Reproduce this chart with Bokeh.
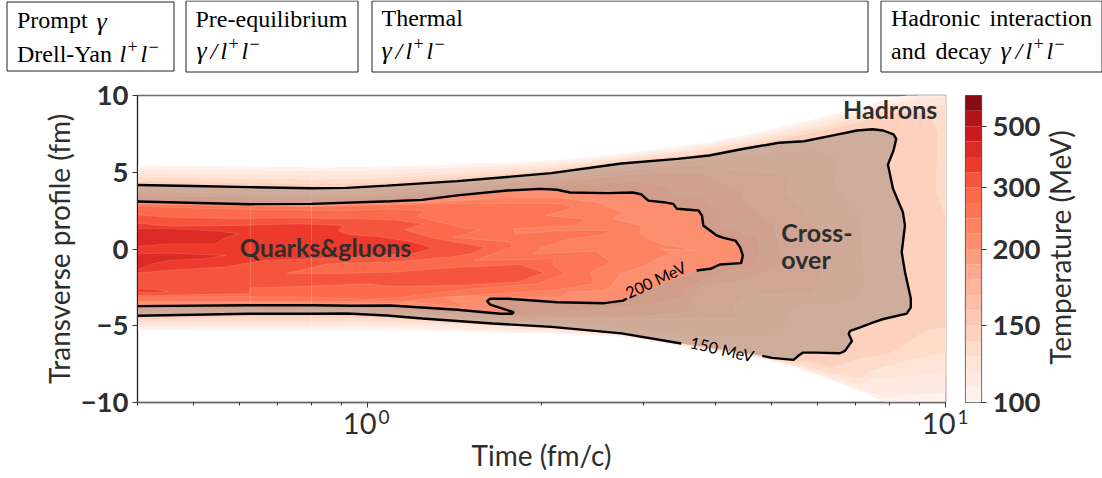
from bokeh.plotting import figure
from bokeh.layouts import column, row
from bokeh.models import FixedTicker, Range1d
from bokeh.core.properties import value
from bokeh.embed import file_html
from bokeh.resources import INLINE

# ---------- data: temperature contours of the fireball, (time fm/c, transverse fm) ----------
levels = [100,110,120,130,140,150,160,170,180,190,200,225,250,275,300,350,400,450,500,550,600]
level_colors = ["#fff2ec","#feeae1","#fee5d8","#fedcc9","#fdd1be","#fdc6b0","#fdbda6","#fcb59c","#fca98f","#fc9d80",
                "#fc8f6f","#fc8262","#fc7555","#fb6a4a","#f6553d","#ee3a2c","#dc2a25","#cb181d","#b4131a","#8b0a13"]
cbar_ticks = [100,150,200,300,500]

c100 = [(.4,5.44),(.8,5.33),(1,5.35),(1.43,5.5),(2.08,5.76),(2.75,6.2),(3.9,6.96),(5.15,7.9),(6.36,8.75),(7.48,9.5),(9,10.2),(11,10.2),(11,-10.2),(8,-10.2),(7.92,-10),(7.32,-9.5),(6.36,-8.55),(5.57,-7.8),(4.82,-7.15),(3.49,-6.32),(2.75,-5.72),(2.08,-5.5),(1.43,-5.4),(1,-5.28),(.4,-5.29)]
c110 = [(.4,5.2),(.8,5.1),(1,5.12),(1.43,5.3),(2.08,5.6),(2.75,6.05),(3.9,6.8),(5.15,7.7),(6.36,8.5),(7.48,9.2),(8.5,9.7),(9.3,10.2),(11,10.2),(11,-9.3),(8.5,-9.5),(7.9,-9.7),(7.2,-9.2),(6.3,-8.42),(5.57,-7.72),(4.82,-7.11),(3.49,-6.28),(2.75,-5.66),(2.08,-5.4),(1.43,-5.22),(1,-5.05),(.4,-5.1)]
c120 = [(.4,4.95),(.8,4.8),(1,4.85),(1.43,5.1),(2.08,5.45),(2.75,5.95),(3.9,6.65),(5.15,7.55),(6.36,8.3),(7.48,9.0),(8.5,9.6),(9.5,9.9),(11,9.9),(11,-8.0),(7.35,-8.5),(7.12,-8.9),(6.4,-8.3),(5.57,-7.62),(4.82,-7.08),(3.49,-6.25),(2.75,-5.62),(2.08,-5.3),(1.43,-5.05),(1,-4.85),(.4,-4.93)]
c130 = [(.4,4.7),(.8,4.55),(1,4.6),(1.43,4.9),(2.08,5.3),(2.75,5.85),(3.9,6.5),(5.15,7.35),(6.36,8.1),(7.48,8.85),(8.5,9.3),(9.5,9.4),(11,9.4),(11,-6.4),(8.57,-7.3),(7.5,-7.9),(7.12,-8.4),(6.36,-8.15),(5.57,-7.55),(4.82,-7.05),(3.49,-6.22),(2.75,-5.58),(2.08,-5.2),(1.43,-4.9),(1,-4.7),(.4,-4.78)]
c140 = [(.4,4.45),(.8,4.25),(1,4.3),(1.43,4.65),(2.08,5.15),(2.75,5.72),(3.44,6.05),(3.9,6.3),(5.15,7.15),(6.36,7.85),(7.48,8.5),(8.5,8.9),(9.4,8.9),(9.7,7.6),(9.65,5.0),(9.65,3.9),(9.9,2.6),(10.2,1.3),(10.2,-5.0),(9.14,-5.41),(8.57,-6.16),(8.02,-6.8),(7.12,-7.13),(6.31,-7.78),(5.83,-7.39),(5.38,-7.33),(5.01,-7.2),(4.82,-7.02),(3.49,-6.2),(2.75,-5.54),(2.08,-5.15),(1.645,-4.93),(1.243,-4.62),(1,-4.5),(.625,-4.47),(.4,-4.6)]
c150_upper = [(.4,4.17),(.5,4.1),(.625,4.03),(.8,3.96),(.92,3.98),(1.08,4.13),(1.43,4.42),(2.08,4.94),(2.75,5.57),(3.44,5.87),(3.9,6.09),(4.48,6.53),(5.15,6.92),(5.69,7.02),(6.36,7.39),(7.03,7.72),(7.48,7.8),(7.8,7.72),(8.13,7.46),(8.22,7.18),(8.13,6.42),(7.95,5.5),(8.11,3.94),(8.44,2.39),(8.51,1.54),(8.4,-.21),(8.51,-1.51),(8.71,-3.22),(8.71,-3.8),(8.57,-4.21),(7.81,-4.56),(7.5,-4.78),(7.12,-5.11),(6.84,-5.33),(6.8,-5.54),(6.89,-5.99),(6.7,-6.64),(6.57,-6.79),(5.99,-6.75),(5.67,-6.75),(5.57,-6.94),(5.46,-7.22),(5.01,-7.09),(4.82,-6.96)]
c150_lower = [(3.49,-6.16),(2.75,-5.5),(2.08,-5.07),(1.645,-4.85),(1.243,-4.53),(1.08,-4.33),(.92,-4.2),(.8,-4.22),(.625,-4.22),(.4,-4.35)]
c160 = [(.4,3.94),(.8,3.75),(1,3.81),(1.43,4.2),(2.08,4.72),(2.96,5.5),(3.76,5.83),(5.53,6.42),(5.9,6.55),(6.51,5.98),(6.51,5.3),(6.43,4.35),(6.78,3.05),(7.16,2.07),(7.18,.68),(7.25,-2.38),(7.16,-3.14),(6.64,-3.55),(6.14,-3.68),(5.6,-3.65),(5.3,-4.41),(5.3,-5.6),(4.5,-5.75),(3.49,-5.63),(2.75,-5.15),(2.08,-4.8),(1.8,-4.72),(1.3,-4.4),(1,-4.15),(.8,-4.12),(.4,-4.2)]
c170 = [(.4,3.73),(.8,3.55),(1,3.6),(1.43,3.95),(2.08,4.53),(2.96,5.24),(3.76,5.44),(5.38,4.79),(5.3,3.6),(5.6,2.64),(6.07,.88),(6.14,-1.53),(5.9,-2.83),(4.47,-3.11),(4.31,-3.88),(4.36,-4.53),(2.5,-4.6),(1.8,-4.6),(1.3,-4.25),(1,-4.02),(.8,-4.0),(.4,-4.07)]
c180 = [(.4,3.5),(.8,3.35),(1,3.4),(1.43,3.7),(2.08,4.3),(2.96,4.95),(3.76,4.98),(4.47,3.69),(4.47,3.17),(5.03,1.66),(5.27,-.95),(4.47,-2.05),(3.76,-2.49),(3.57,-4.12),(2.96,-4.4),(2.2,-4.45),(1.8,-4.45),(1.3,-4.1),(1,-3.9),(.8,-3.9),(.4,-3.95)]
c190 = [(.4,3.25),(.8,3.1),(1,3.2),(1.43,3.6),(2.08,4.14),(2.96,4.4),(3.34,4.03),(3.36,3.62),(3.76,3.37),(4.07,2.5),(4.1,1.53),(4.72,.77),(4.78,-.29),(4.65,-1.19),(4.07,-1.51),(3.52,-2.7),(3.52,-3.14),(3.17,-3.55),(2.96,-3.68),(2.2,-4.1),(1.85,-4.33),(1.645,-4.25),(1.2,-3.9),(.8,-3.78),(.4,-3.85)]
c200_upper = [(.4,3.09),(.625,2.92),(.8,2.94),(1.096,3.11),(1.243,3.2),(1.43,3.49),(1.744,3.81),(1.99,3.92),(2.13,3.86),(2.24,3.68),(2.6,3.64),(2.88,3.68),(2.98,3.55),(3.06,3.15),(3.25,3.05),(3.38,2.94),(3.43,2.62),(3.74,2.51),(3.79,2.18),(3.81,1.53),(4.02,.88),(4.13,.73),(4.33,.55),(4.41,.12),(4.46,-.42),(4.43,-.92),(4.07,-1.01),(3.92,-1.29),(3.71,-1.4)]
c200_lower = [(2.81,-3.22),(2.77,-3.36),(2.57,-3.53),(2.13,-3.47),(1.744,-3.24),(1.63,-3.24),(1.61,-3.4),(1.63,-3.62),(1.79,-4.12),(1.78,-4.22),(1.7,-4.22),(1.43,-3.96),(1.243,-3.81),(1.096,-3.68),(.938,-3.7),(.8,-3.66),(.625,-3.66),(.4,-3.72)]
c225 = [(.4,3.0),(.8,2.82),(1.1,2.98),(1.3,3.05),(1.744,3.37),(2.13,3.37),(2.49,3.05),(2.77,2.4),(2.66,1.97),(2.98,1.53),(2.96,1.0),(3.21,.34),(3.71,-.1),(3.21,.01),(3.36,-.31),(3.17,-.64),(2.96,-1.19),(2.74,-1.62),(2.63,-2.49),(2.56,-2.71),(2.21,-2.81),(2.18,-3.14),(1.77,-3.14),(1.36,-3.08),(1.48,-3.8),(1.2,-3.47),(1.096,-3.55),(.8,-3.5),(.4,-3.5)]
c250 = [(.4,2.92),(.8,2.75),(1.1,2.88),(1.3,2.94),(1.744,2.98),(2.18,2.94),(2.27,2.68),(2.03,2.18),(2.38,1.97),(2.3,1.53),(1.79,1.32),(1.8,.99),(2.18,1.2),(2.6,1.2),(2.6,.99),(2.21,.6),(2.01,.12),(1.94,-.31),(2.49,-.14),(2.63,-.86),(2.43,-1.51),(2.46,-2.27),(2.07,-2.7),(1.35,-3.14),(1.15,-3.4),(.8,-3.42),(.4,-3.4)]
c275 = [(.4,2.79),(.58,2.6),(.9,2.5),(1.1,2.6),(1.25,2.5),(1.22,2.1),(1.46,1.4),(1.57,1.25),(1.41,.77),(1.77,.44),(1.78,.12),(1.53,-.75),(2.1,-.64),(2.1,-1.07),(2.2,-1.62),(1.97,-2.27),(1.5,-2.6),(1.15,-3.14),(1.0,-3.3),(.83,-3.14),(.59,-3.1),(.4,-3.14)]
c300 = [(.4,2.23),(.453,2.07),(.59,1.99),(.76,2.03),(.93,1.97),(1.11,1.9),(1.25,1.64),(1.16,1.27),(1.29,.73),(1.6,.12),(1.52,-.29),(1.39,-.53),(1.1,-.85),(.856,-.96),(.726,-1.58),(.88,-1.6),(1.096,-1.51),(1.43,-1.19),(1.84,-1.01),(1.97,-1.4),(2.02,-1.55),(1.815,-2.16),(1.43,-2.38),(1.096,-2.44),(1,-2.27),(.76,-2.45),(.625,-2.53),(.625,-2.92),(.4,-3.03)]
c350 = [(.4,1.68),(.453,1.49),(.59,1.53),(.76,1.64),(.91,1.53),(.89,1.2),(.93,.94),(1.05,.8),(1.2,.45),(1.3,.05),(1.2,-.3),(.85,-.6),(.66,-.75),(.568,-1.16),(.45,-1.4),(.4,-1.55)]
c350_sliver = [(.4,-2.6),(.43,-2.65),(.452,-2.78),(.43,-2.82),(.4,-2.8)]
c400_a = [(.4,1.32),(.453,1.34),(.553,1.16),(.598,.99),(.564,.68),(.546,.34),(.453,.34),(.4,.16)]
c400_b = [(.4,-.31),(.453,-.27),(.568,-.42),(.518,-.64),(.453,-.75),(.424,-.96),(.4,-1.36)]

time_major = [1, 10]
time_minor = [.4,.5,.6,.7,.8,.9,2,3,4,5,6,7,8,9]
box_lefts = [6.5, 185.5, 371.5, 880.5]
box_rights = [173.5, 357.5, 867.5, 1101.5]
box_tops = [1.5, 0.5, 0.5, 0.5]
box_bottoms = [70.5, 71.5, 71.5, 71.5]

# ---------- figures ----------
INK = "#2e2e2e"
SERIF = "Liberation Serif"
SANS = "Lato"

top = figure(width=1102, height=73, x_range=Range1d(0, 1102), y_range=Range1d(73, 0),
             toolbar_location=None, output_backend="svg", min_border=0)
top.axis.visible = False
top.grid.visible = False
top.outline_line_color = None
top.quad(left=box_lefts, right=box_rights, top=box_tops, bottom=box_bottoms,
         fill_color="white", line_color="#222222", line_width=1)

def put(fig, px, py, txt, style="normal", size="24px", align="left"):
    fig.text(x=[px], y=[py], text=[txt], text_font=value(SERIF), text_font_size=value(size),
             text_font_style=value(style), text_color="black", text_baseline="middle", text_align=align)

def dilepton(px, py):
    put(top, px, py, "l", "italic")
    put(top, px + 8, py - 7, "+", size="18px")
    put(top, px + 21, py, "l", "italic")
    put(top, px + 29, py - 7, "\u2212", size="18px")

put(top, 16.5, 19, "Prompt")
put(top, 96, 21, "\u03b3", "italic", size="26px")
put(top, 16.5, 53, "Drell-Yan")
dilepton(119, 53)
put(top, 195, 18, "Pre-equilibrium")
put(top, 196, 50, "\u03b3", "italic", size="26px")
put(top, 210, 50, "/", "italic")
dilepton(220, 50)
put(top, 381, 17, "Thermal")
put(top, 381, 50, "\u03b3", "italic", size="26px")
put(top, 395, 50, "/", "italic")
dilepton(405, 50)
put(top, 890.5, 17, "Hadronic")
put(top, 989, 17, "interaction")
put(top, 890.5, 50, "and")
put(top, 935, 50, "decay")
put(top, 1000, 50, "\u03b3", "italic", size="26px")
put(top, 1015, 50, "/", "italic")
dilepton(1025, 50)

main = figure(width=963, height=405, x_axis_type="log", x_range=Range1d(0.4, 10), y_range=Range1d(-10, 10),
              toolbar_location=None, output_backend="svg",
              min_border_left=137, min_border_right=18, min_border_top=22, min_border_bottom=76,
              x_axis_label="Time (fm/c)", y_axis_label="Transverse profile (fm)")
main.grid.visible = False
main.outline_line_color = "#6e6e6e"
main.outline_line_width = 1.5

def fill(pts, color, line_alpha=0.22):
    main.patch([p[0] for p in pts], [p[1] for p in pts], fill_color=color, line_color="white",
               line_alpha=line_alpha, line_width=0.6)

c150 = c150_upper + c150_lower
c200 = c200_upper + c200_lower
stacked = [c100, c110, c120, c130, c140, c150, c160, c170, c180, c190, c200, c225, c250, c275, c300, c350]
for pts, col in zip(stacked, level_colors):
    fill(pts, col)
fill(c350_sliver, level_colors[15])
fill(c400_a, level_colors[16])
fill(c400_b, level_colors[16])

# faint seams
main.segment(x0=[.627, .8], x1=[.627, .8], y0=[-5.3, -5.3], y1=[5.35, 5.35], line_color="white", line_alpha=0.2, line_width=1)

# crossover overlay
over = c150 + c200[::-1]
main.patch([p[0] for p in over], [p[1] for p in over], fill_color="#b09c90", fill_alpha=0.6, line_color=None)

for seg in (c150_upper, c150_lower, c200_upper, c200_lower):
    main.line([p[0] for p in seg], [p[1] for p in seg], line_color="black", line_width=2.4)

def note(t, x, txt, size, style="bold", angle=0, align="center", color=INK):
    main.text(x=[t], y=[x], text=[txt], text_font=value(SANS), text_font_size=value(size), text_font_style=value(style),
              text_color=color, text_align=align, text_baseline="middle", angle=angle, angle_units="deg")

note(.846, .15, "Quarks&gluons", "25px")
note(8.02, 9.12, "Hadrons", "25px")
note(5.2, 1.13, "Cross-", "25px", align="left")
note(5.2, -.62, "over", "25px", align="left")
note(4.11, -6.51, "150 MeV", "16px", "normal", angle=-13, color="black")
note(3.15, -1.99, "200 MeV", "16px", "normal", angle=25, color="black")

ax = main.xaxis[0]
ax.ticker = FixedTicker(ticks=time_major, minor_ticks=time_minor)
ax.major_label_overrides = {1: "", 10: ""}
ax.major_tick_in = 0; ax.major_tick_out = 5; ax.minor_tick_in = 0; ax.minor_tick_out = 3
ax.axis_line_color = "#6e6e6e"; ax.axis_line_width = 1.5
ax.major_tick_line_color = "#333333"; ax.minor_tick_line_color = "#333333"
ax.axis_label_text_font = SANS; ax.axis_label_text_font_size = "28px"; ax.axis_label_text_font_style = "normal"
ax.axis_label_text_color = INK; ax.axis_label_standoff = 30
ay = main.yaxis[0]
ay.ticker = FixedTicker(ticks=[-10, -5, 0, 5, 10])
ay.major_label_overrides = {-10: "\u221210", -5: "\u22125", 0: "0", 5: "5", 10: "10"}
ay.major_tick_in = 0; ay.major_tick_out = 5; ay.minor_tick_line_color = None
ay.axis_line_color = "#222222"; ay.major_tick_line_color = "#333333"
ay.major_label_text_font = SANS; ay.major_label_text_font_size = "27.5px"; ay.major_label_text_font_style = "bold"
ay.major_label_text_color = INK; ay.major_label_standoff = 4
ay.axis_label_text_font = SANS; ay.axis_label_text_font_size = "28px"; ay.axis_label_text_font_style = "normal"
ay.axis_label_text_color = INK; ay.axis_label_standoff = 2

cbar = figure(width=139, height=405, x_range=Range1d(0, 1), y_range=Range1d(0, 20),
              toolbar_location=None, output_backend="svg",
              min_border_left=2, min_border_right=121, min_border_top=22, min_border_bottom=76,
              y_axis_location="right")
cbar.grid.visible = False
cbar.xaxis.visible = False
cbar.outline_line_color = "#555555"
cbar.outline_line_width = 1.2
idx = list(range(len(level_colors)))
cbar.quad(left=0, right=1, bottom=idx, top=[i + 1 for i in idx], fill_color=level_colors, line_color=None)
cy = cbar.yaxis[0]
cy.ticker = FixedTicker(ticks=[levels.index(v) for v in cbar_ticks])
cy.major_label_overrides = {levels.index(v): str(v) for v in cbar_ticks}
cy.major_tick_in = 0; cy.major_tick_out = 5; cy.minor_tick_line_color = None
cy.axis_line_color = None; cy.major_tick_line_color = "#333333"
cy.major_label_text_font = SANS; cy.major_label_text_font_size = "27.5px"; cy.major_label_text_font_style = "bold"
cy.major_label_text_color = INK; cy.major_label_standoff = 6

# transparent overlay for the texts that lie outside any frame
ovl = figure(width=1102, height=405, x_range=Range1d(0, 1102), y_range=Range1d(478, 73),
             toolbar_location=None, output_backend="svg", min_border=0, margin=(-405, 0, 0, 0),
             background_fill_color=None, border_fill_color=None)
ovl.axis.visible = False
ovl.grid.visible = False
ovl.outline_line_color = None
for xr, xs, sup in [(376, 378, "0"), (955, 957, "1")]:
    ovl.text(x=[xr], y=[423], text=["10"], text_font=value(SANS), text_font_size=value("29px"),
             text_color=INK, text_align="right", text_baseline="middle")
    ovl.text(x=[xs], y=[416], text=[sup], text_font=value(SANS), text_font_size=value("19px"),
             text_color=INK, text_align="left", text_baseline="middle")
ovl.text(x=[1059.5], y=[247], text=["Temperature (MeV)"], text_font=value(SANS), text_font_size=value("28px"),
         text_color=INK, text_align="center", text_baseline="middle", angle=90, angle_units="deg")

page = column(top, row(main, cbar), ovl)
open("out.html", "w").write(file_html(page, INLINE))
